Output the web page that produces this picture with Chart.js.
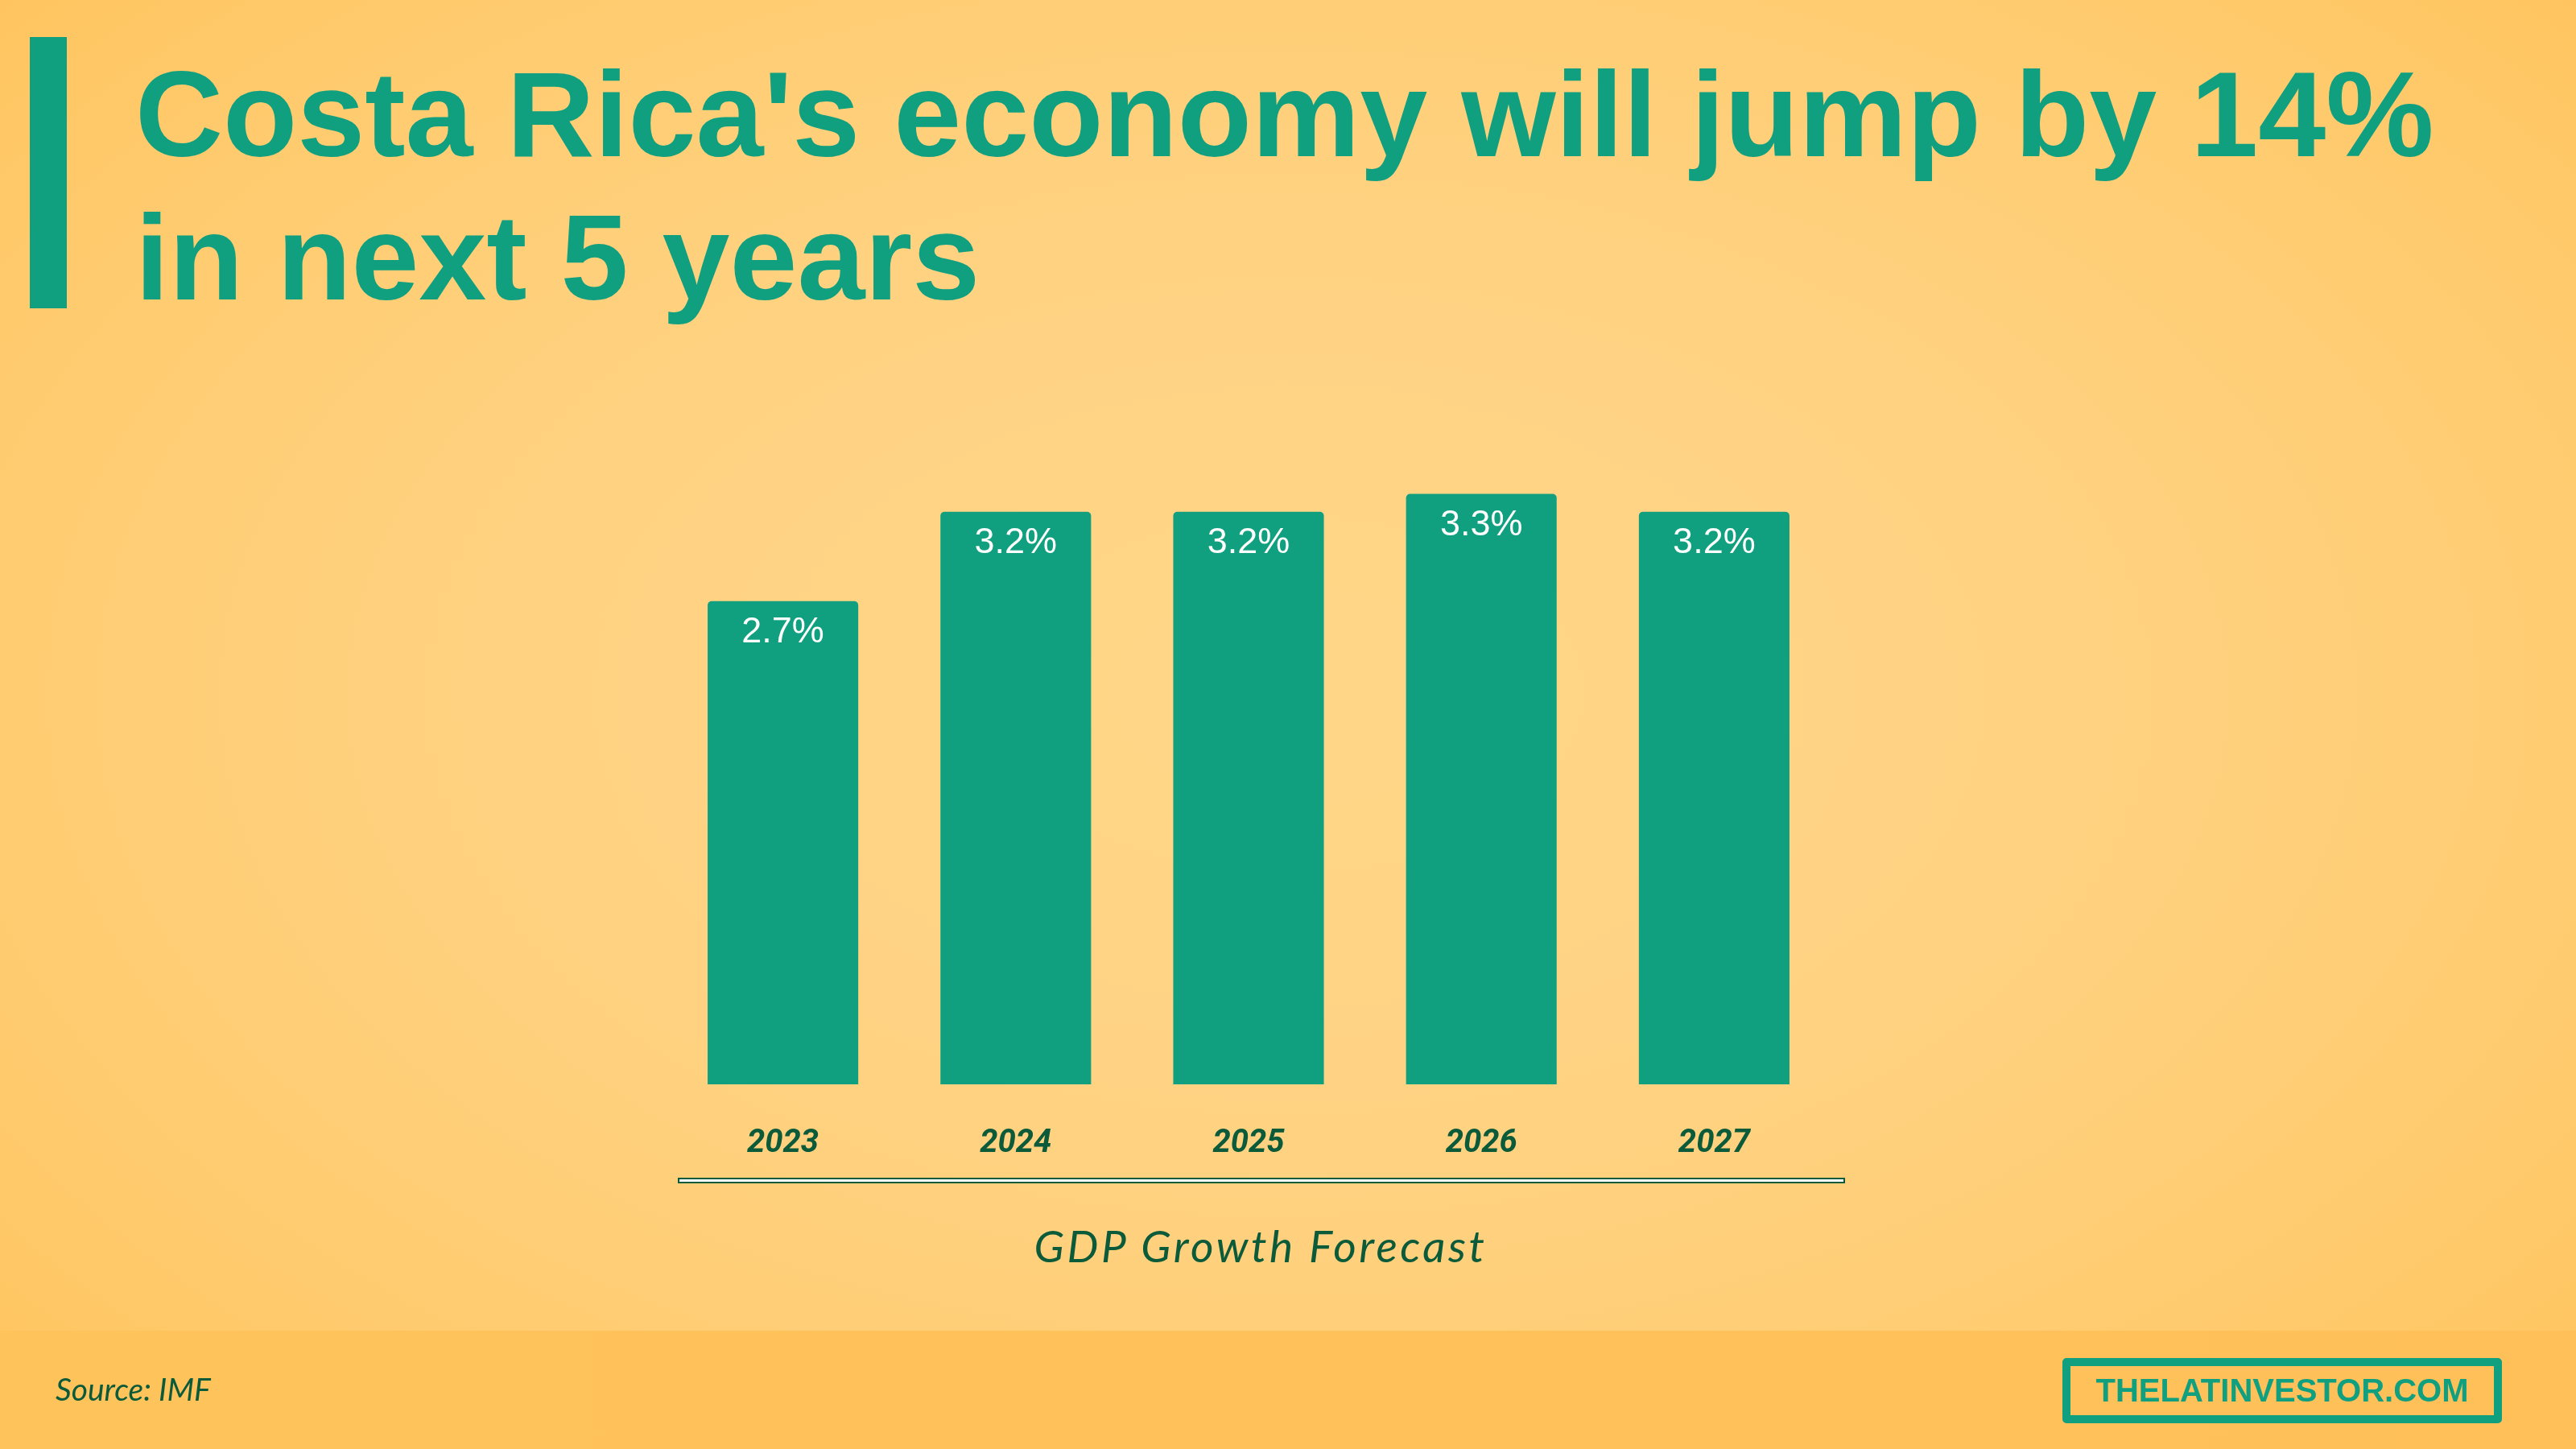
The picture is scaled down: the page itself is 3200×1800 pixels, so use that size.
<!DOCTYPE html>
<html>
<head>
<meta charset="utf-8">
<script src="https://cdn.jsdelivr.net/npm/chart.js@4.4.1/dist/chart.umd.min.js"></script>
<style>
  html, body { margin: 0; padding: 0; }
  body {
    width: 3200px; height: 1800px; position: relative; overflow: hidden;
    background: radial-gradient(ellipse 70% 75% at 50% 48%, #ffd688 0%, #ffd281 45%, #ffca6c 80%, #ffc35c 100%);
    font-family: "Liberation Sans", Arial, sans-serif;
  }
  #footer {
    position: absolute; left: 0; top: 1653px; width: 3200px; height: 147px;
    background: linear-gradient(90deg, #ffc35c 0%, #ffc25a 50%, #ffc059 100%);
  }
  #accent { position: absolute; left: 37px; top: 46px; width: 46px; height: 337px; background: #10a080; }
  #title {
    position: absolute; left: 168px; top: 53px; margin: 0;
    font: bold 151px/178px "Liberation Sans", Arial, sans-serif; color: #10a080; white-space: nowrap;
  }
  #chart { position: absolute; left: 0; top: 0; }
  #axisline {
    position: absolute; left: 842px; top: 1463px; width: 1446px; height: 3px;
    border: 2px solid #0b5a3a; background: #ffffff;
  }
  #caption {
    position: absolute; left: 1566px; top: 1520px; transform: translateX(-50%);
    font: italic 55px/55px Lato, sans-serif; letter-spacing: 3.5px; color: #0b5a3a; white-space: nowrap;
  }
  #source {
    position: absolute; left: 69px; top: 1706px;
    font: italic 39px/39px Lato, sans-serif; color: #0b5a3a; white-space: nowrap;
  }
  #logo {
    position: absolute; left: 2562px; top: 1687px; width: 526px; height: 61px;
    border: 10px solid #10a080; border-radius: 5px;
    display: flex; align-items: center; justify-content: center;
    font: bold 40px "Liberation Sans", Arial, sans-serif; color: #10a080;
  }
</style>
</head>
<body>
<div id="footer"></div>
<div id="accent"></div>
<h1 id="title">Costa Rica's economy will jump by 14%<br>in next 5 years</h1>
<canvas id="chart" width="3200" height="1800"></canvas>
<div id="axisline"></div>
<div id="caption">GDP Growth Forecast</div>
<div id="source">Source: IMF</div>
<div id="logo">THELATINVESTOR.COM</div>

<script>
// data
const years = ['2023', '2024', '2025', '2026', '2027'];
const growth = [2.7, 3.2, 3.2, 3.3, 3.2];
const valueLabels = ['2.7%', '3.2%', '3.2%', '3.3%', '3.2%'];

const teal = '#10a080';
const darkGreen = '#0b5a3a';

// white value text inside the top of each bar
const barLabels = {
    id: 'barLabels',
    afterDatasetsDraw(chart) {
        const ctx = chart.ctx;
        const bars = chart.getDatasetMeta(0).data;
        ctx.save();
        ctx.fillStyle = '#ffffff';
        ctx.font = '45px "Liberation Sans", Arial, sans-serif';
        ctx.textAlign = 'center';
        ctx.textBaseline = 'middle';
        bars.forEach((bar, i) => {
            ctx.fillText(valueLabels[i], bar.x, bar.y + 39);
        });
        ctx.restore();
    }
};

const ctx = document.getElementById('chart').getContext('2d');

const gdpChart = new Chart(ctx, {
    type: 'bar',
    data: {
        labels: years,
        datasets: [{
            label: 'GDP Growth Forecast',
            data: growth,
            backgroundColor: teal,
            borderRadius: { topLeft: 5, topRight: 5, bottomLeft: 0, bottomRight: 0 },
            borderSkipped: 'bottom',
            categoryPercentage: 1,
            barPercentage: 0.647
        }]
    },
    options: {
        responsive: false,
        devicePixelRatio: 1,
        animation: false,
        layout: {
            padding: { left: 828, right: 926, top: 569, bottom: 313 }
        },
        plugins: {
            legend: { display: false },
            tooltip: { enabled: false }
        },
        scales: {
            x: {
                grid: { display: false },
                border: { display: false },
                ticks: {
                    color: darkGreen,
                    padding: 42,
                    font: { family: 'Roboto', size: 40, style: 'italic', weight: 'bold' }
                }
            },
            y: {
                display: false,
                min: 0,
                max: 3.5
            }
        }
    },
    plugins: [barLabels]
});
</script>
</body>
</html>
